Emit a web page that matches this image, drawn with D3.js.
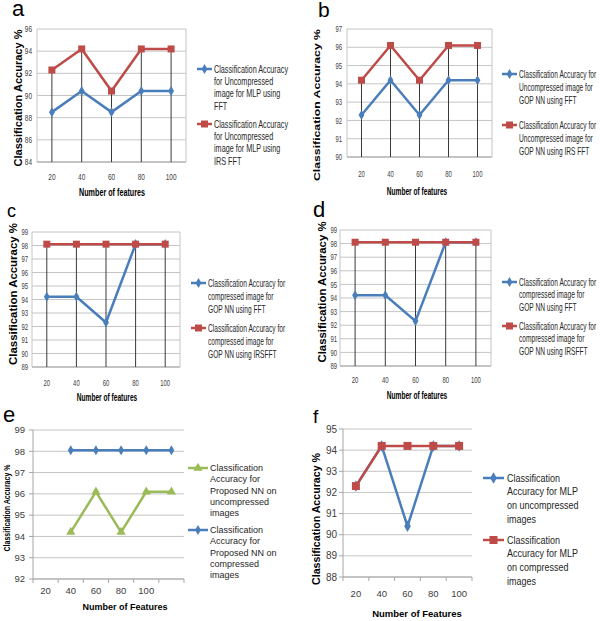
<!DOCTYPE html>
<html>
<head>
<meta charset="utf-8">
<script src="https://cdn.jsdelivr.net/npm/d3@7"></script>
<style>
body { margin: 0; background: #fff; }
svg text { font-family: "Liberation Sans", Arial, sans-serif; }
</style>
</head>
<body>
<script>
// categories
var features = ["20", "40", "60", "80", "100"];
var featuresShifted = ["20", "40", "60", "80", "100", ""];

// y tick labels
var ticksA = [84, 86, 88, 90, 92, 94, 96];
var ticksB = [90, 91, 92, 93, 94, 95, 96, 97];
var ticksCD = [89, 90, 91, 92, 93, 94, 95, 96, 97, 98, 99];
var ticksE = [92, 93, 94, 95, 96, 97, 98, 99];
var ticksF = [88, 89, 90, 91, 92, 93, 94, 95];

// series values
var mlpFFT = [88.5, 90.4, 88.5, 90.4, 90.4];
var mlpIRSFFT = [92.3, 94.2, 90.4, 94.2, 94.2];
var gopFFT = [92.3, 94.2, 92.3, 94.2, 94.2];
var gopIRSFFT = [94.2, 96.1, 94.2, 96.1, 96.1];
var gopCompFFT_c = [94.2, 94.2, 92.3, 98.1, 98.1];
var gopCompIRS_c = [98.1, 98.1, 98.1, 98.1, 98.1];
var gopCompFFT_d = [94.2, 94.2, 92.3, 98.1, 98.1];
var gopCompIRS_d = [98.1, 98.1, 98.1, 98.1, 98.1];
var propUncomp = [null, 94.2, 96.1, 94.2, 96.1, 96.1];
var propComp = [null, 98.05, 98.05, 98.05, 98.05, 98.05];
var mlpUncomp = [92.3, 94.2, 90.4, 94.2, 94.2];
var mlpComp = [92.3, 94.2, 94.2, 94.2, 94.2];

// legend texts
var legA1 = ["Classification Accuracy", "for Uncompressed", "image for MLP using", "FFT"];
var legA2 = ["Classification Accuracy", "for Uncompressed", "image for MLP using", "IRS FFT"];
var legB1 = ["Classification Accuracy for", "Uncompressed image for", "GOP NN using FFT"];
var legB2 = ["Classification Accuracy for", "Uncompressed image for", "GOP NN using IRS FFT"];
var legC1 = ["Classification Accuracy for", "compressed image for", "GOP NN using FFT"];
var legC2 = ["Classification Accuracy for", "compressed image for", "GOP NN using IRSFFT"];
var legE1 = ["Classification", "Accuracy for", "Proposed NN on", "uncompressed", "images"];
var legE2 = ["Classification", "Accuracy for", "Proposed NN on", "compressed", "images"];
var legF1 = ["Classification", "Accuracy for MLP", "on uncompressed", "images"];
var legF2 = ["Classification", "Accuracy for MLP", "on compressed", "images"];

var BLUE = "#4a7ebb", RED = "#be4b48", GREEN = "#9bbb59";

var width = 600, height = 621;

var svg = d3.select("body").append("svg")
    .attr("width", width)
    .attr("height", height);

var panels = [
  {tag: "a", tagX: 12, tagY: 16, tagSize: 22,
   left: 37, right: 186, top: 29, bottom: 162, yDomain: [84, 96], yTicks: ticksA, cats: features,
   sx: 0.72, ylOff: 5, ylSize: 9, xlY: 180, xlSize: 9,
   xt: "Number of features", xtX: 112, xtY: 196, xtSize: 10,
   ytX: 22, ytY: 98, ytLen: 137, ytSize: 10,
   legX1: 197, legX2: 212, legTx: 214, legY: [69, 124], legDy: 12.4, legSize: 10.5, legSx: 0.69,
   frame: true, drop: true, ticksOut: false, mk: 7,
   series: [{v: mlpFFT, c: BLUE, m: "diamond", leg: legA1}, {v: mlpIRSFFT, c: RED, m: "square", leg: legA2}]},
  {tag: "b", tagX: 318, tagY: 16.5, tagSize: 21,
   left: 347, right: 492, top: 29, bottom: 157, yDomain: [90, 97], yTicks: ticksB, cats: features,
   sx: 0.66, ylOff: 5, ylSize: 9, xlY: 177, xlSize: 9,
   xt: "Number of features", xtX: 417, xtY: 195, xtSize: 10,
   ytX: 320, ytY: 105, ytLen: 152, ytSize: 9.5,
   legX1: 502, legX2: 517, legTx: 519, legY: [74, 125], legDy: 13, legSize: 10.5, legSx: 0.63,
   frame: true, drop: true, ticksOut: false, mk: 7,
   series: [{v: gopFFT, c: BLUE, m: "diamond", leg: legB1}, {v: gopIRSFFT, c: RED, m: "square", leg: legB2}]},
  {tag: "c", tagX: 7, tagY: 217, tagSize: 18,
   left: 32, right: 180, top: 232, bottom: 367, yDomain: [89, 99], yTicks: ticksCD, cats: features,
   sx: 0.66, ylOff: 4, ylSize: 9, xlY: 386, xlSize: 9,
   xt: "Number of features", xtX: 107, xtY: 401, xtSize: 10,
   ytX: 16.5, ytY: 294, ytLen: 142, ytSize: 10,
   legX1: 191, legX2: 206, legTx: 208, legY: [283, 328], legDy: 13, legSize: 10.5, legSx: 0.63,
   frame: true, drop: true, ticksOut: false, mk: 7,
   series: [{v: gopCompFFT_c, c: BLUE, m: "diamond", leg: legC1}, {v: gopCompIRS_c, c: RED, m: "square", leg: legC2}]},
  {tag: "d", tagX: 313, tagY: 217, tagSize: 22,
   left: 340, right: 491, top: 230, bottom: 366, yDomain: [89, 99], yTicks: ticksCD, cats: features,
   sx: 0.66, ylOff: 3, ylSize: 9, xlY: 383, xlSize: 9,
   xt: "Number of features", xtX: 417, xtY: 399, xtSize: 10,
   ytX: 326, ytY: 292, ytLen: 141, ytSize: 10,
   legX1: 502, legX2: 517, legTx: 519, legY: [282, 326], legDy: 12.5, legSize: 10.5, legSx: 0.63,
   frame: true, drop: true, ticksOut: false, mk: 7,
   series: [{v: gopCompFFT_d, c: BLUE, m: "diamond", leg: legC1}, {v: gopCompIRS_d, c: RED, m: "square", leg: legC2}]},
  {tag: "e", tagX: 3, tagY: 422, tagSize: 22,
   left: 33, right: 184, top: 430, bottom: 579, yDomain: [92, 99], yTicks: ticksE, cats: featuresShifted,
   sx: 1, ylOff: 8, ylSize: 9.5, xlY: 594, xlSize: 9.5,
   xt: "Number of Features", xtX: 125, xtY: 610, xtSize: 9,
   ytX: 10, ytY: 508, ytLen: 87, ytSize: 8.5,
   legX1: 188, legX2: 208, legTx: 210, legY: [468, 530], legDy: 11.3, legSize: 9,
   frame: false, drop: false, ticksOut: true, mk: 7,
   series: [{v: propUncomp, c: GREEN, m: "triangle", leg: legE1}, {v: propComp, c: BLUE, m: "diamond", leg: legE2}]},
  {tag: "f", tagX: 313, tagY: 423, tagSize: 19,
   left: 343, right: 472, top: 429, bottom: 577, yDomain: [88, 95], yTicks: ticksF, cats: features,
   sx: 1, ylOff: 6, ylSize: 10, xlY: 597, xlSize: 9.5,
   xt: "Number of Features", xtX: 417, xtY: 617, xtSize: 9.5,
   ytX: 320, ytY: 519, ytLen: 132, ytSize: 10,
   legX1: 483, legX2: 504, legTx: 507, legY: [478, 540], legDy: 13.7, legSize: 10, legSx: 0.9,
   frame: false, drop: false, ticksOut: true, mk: 8,
   series: [{v: mlpUncomp, c: BLUE, m: "diamond", leg: legF1}, {v: mlpComp, c: RED, m: "square", leg: legF2}]}
];

function marker(sel, kind, size, color) {
  var sym = kind === "square" ? d3.symbolSquare : kind === "triangle" ? d3.symbolTriangle : d3.symbolDiamond;
  var area = kind === "square" ? size * size : kind === "triangle" ? size * size * 0.75 : size * size * 0.6;
  sel.attr("d", d3.symbol(sym, area)).attr("fill", color);
}

panels.forEach(function(p) {
  var g = svg.append("g");
  var x = d3.scaleBand().domain(d3.range(p.cats.length)).range([p.left, p.right]);
  var y = d3.scaleLinear().domain(p.yDomain).range([p.bottom, p.top]);
  var cx = function(i) { return x(i) + x.bandwidth() / 2; };

  // panel letter
  g.append("text").attr("x", p.tagX).attr("y", p.tagY)
      .attr("font-size", p.tagSize).attr("fill", "#000").text(p.tag);

  // gridlines
  g.selectAll(".grid").data(p.yTicks).join("line")
      .attr("x1", p.left).attr("x2", p.right)
      .attr("y1", function(d) { return y(d); }).attr("y2", function(d) { return y(d); })
      .attr("stroke", "#c4c4c4").attr("stroke-width", 1);

  // axis lines
  g.append("line").attr("x1", p.left).attr("x2", p.left).attr("y1", p.top).attr("y2", p.bottom)
      .attr("stroke", p.frame ? "#c4c4c4" : "#a6a6a6");
  g.append("line").attr("x1", p.left).attr("x2", p.right).attr("y1", p.bottom).attr("y2", p.bottom)
      .attr("stroke", "#a6a6a6");
  if (p.frame) {
    g.append("line").attr("x1", p.right).attr("x2", p.right).attr("y1", p.top).attr("y2", p.bottom)
        .attr("stroke", "#c4c4c4");
  }
  if (p.ticksOut) {
    g.selectAll(".yt").data(p.yTicks).join("line")
        .attr("x1", p.left - 4).attr("x2", p.left)
        .attr("y1", function(d) { return y(d); }).attr("y2", function(d) { return y(d); })
        .attr("stroke", "#a6a6a6");
    g.selectAll(".xt").data(d3.range(p.cats.length + 1)).join("line")
        .attr("x1", function(i) { return p.left + i * x.step(); })
        .attr("x2", function(i) { return p.left + i * x.step(); })
        .attr("y1", p.bottom).attr("y2", p.bottom + 4)
        .attr("stroke", "#a6a6a6");
  }

  // y tick labels
  g.selectAll(".yl").data(p.yTicks).join("text")
      .attr("transform", function(d) { return "translate(" + (p.left - p.ylOff) + "," + (y(d) + p.ylSize * 0.35) + ") scale(" + p.sx + ",1)"; })
      .attr("text-anchor", "end").attr("font-size", p.ylSize).attr("fill", "#404040")
      .text(function(d) { return d; });

  // x tick labels
  g.selectAll(".xl").data(p.cats).join("text")
      .attr("transform", function(d, i) { return "translate(" + cx(i) + "," + p.xlY + ") scale(" + p.sx + ",1)"; })
      .attr("text-anchor", "middle").attr("font-size", p.xlSize).attr("fill", "#404040")
      .text(function(d) { return d; });

  // axis titles
  g.append("text")
      .attr("transform", "translate(" + p.xtX + "," + p.xtY + ") scale(" + p.sx + ",1)")
      .attr("text-anchor", "middle").attr("font-size", p.xtSize).attr("font-weight", "bold")
      .attr("fill", "#000").text(p.xt);
  g.append("text")
      .attr("transform", "translate(" + p.ytX + "," + p.ytY + ") rotate(-90)")
      .attr("text-anchor", "middle").attr("font-size", p.ytSize).attr("font-weight", "bold")
      .attr("textLength", p.ytLen).attr("lengthAdjust", "spacingAndGlyphs")
      .attr("fill", "#000").text("Classification Accuracy %");

  // drop lines from the highest point to the axis
  if (p.drop) {
    g.selectAll(".drop").data(p.cats).join("line")
        .attr("x1", function(d, i) { return cx(i); }).attr("x2", function(d, i) { return cx(i); })
        .attr("y1", function(d, i) { return y(d3.max(p.series, function(s) { return s.v[i]; })); })
        .attr("y2", p.bottom)
        .attr("stroke", "#3a3a3a").attr("stroke-width", 1);
  }

  // series
  var line = d3.line()
      .defined(function(d) { return d != null; })
      .x(function(d, i) { return cx(i); })
      .y(function(d) { return y(d); });

  p.series.forEach(function(s) {
    g.append("path").datum(s.v).attr("d", line)
        .attr("fill", "none").attr("stroke", s.c).attr("stroke-width", 2.5)
        .attr("stroke-linejoin", "round");
    g.selectAll(null).data(s.v.map(function(v, i) { return {v: v, i: i}; }).filter(function(d) { return d.v != null; }))
        .join("path")
        .attr("transform", function(d) { return "translate(" + cx(d.i) + "," + y(d.v) + ")"; })
        .call(marker, s.m, p.mk, s.c);
  });

  // legend
  var lsx = p.legSx || p.sx;
  p.series.forEach(function(s, k) {
    var ly = p.legY[k];
    g.append("line").attr("x1", p.legX1).attr("x2", p.legX2).attr("y1", ly).attr("y2", ly)
        .attr("stroke", s.c).attr("stroke-width", 2.5);
    g.append("path").attr("transform", "translate(" + ((p.legX1 + p.legX2) / 2) + "," + ly + ")")
        .call(marker, s.m, p.mk, s.c);
    g.selectAll(null).data(s.leg).join("text")
        .attr("transform", function(d, j) { return "translate(" + p.legTx + "," + (ly + p.legSize * 0.35 + j * p.legDy) + ") scale(" + lsx + ",1)"; })
        .attr("font-size", p.legSize).attr("fill", "#262626")
        .text(function(d) { return d; });
  });
});
</script>
</body>
</html>
